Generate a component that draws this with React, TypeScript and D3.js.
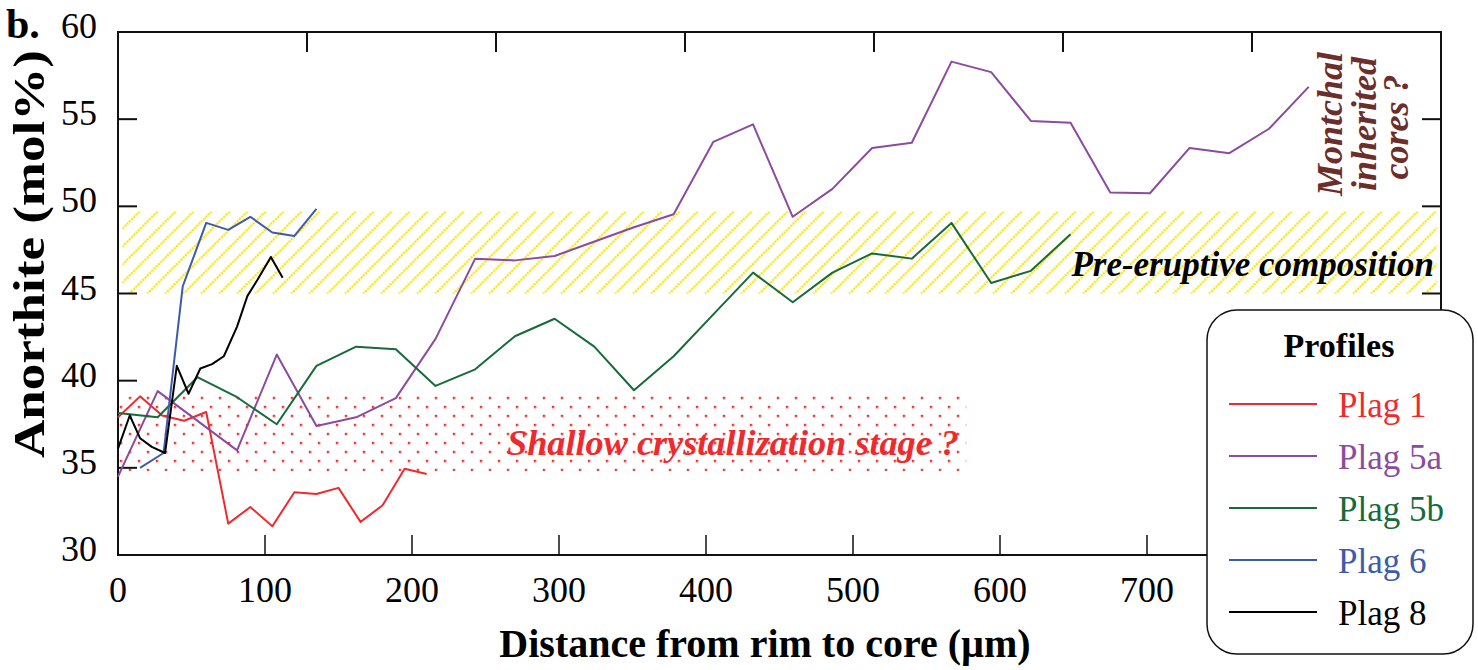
import React from "react";
import * as d3 from "d3";

// ---------- data ----------
const plag1D = [0, 15, 30, 45, 60, 75, 90, 105, 120, 135, 150, 165, 180, 195, 210];
const plag1V = [37.9, 39.1, 38.0, 37.7, 38.2, 31.8, 32.75, 31.65, 33.6, 33.5, 33.85, 31.9, 32.85, 34.95, 34.65];

const plag5aD = [0, 27, 81, 108, 135, 162, 189, 216, 243, 270, 297, 351, 378, 405, 432, 459, 486, 513, 540, 567, 594, 621, 648, 675, 702, 729, 756, 783, 810];
const plag5aV = [34.5, 39.4, 36.0, 41.5, 37.4, 37.9, 39.0, 42.4, 47.0, 46.9, 47.15, 48.8, 49.55, 53.7, 54.7, 49.4, 51.0, 53.35, 53.65, 58.3, 57.7, 54.9, 54.8, 50.8, 50.75, 53.35, 53.05, 54.45, 56.85];

const plag5bD = [0, 27, 54, 81, 108, 135, 162, 189, 216, 243, 270, 297, 324, 351, 378, 405, 432, 459, 486, 513, 540, 567, 594, 621, 648];
const plag5bV = [38.15, 37.9, 40.2, 39.05, 37.5, 40.85, 41.95, 41.8, 39.7, 40.65, 42.55, 43.55, 41.95, 39.45, 41.4, 43.8, 46.2, 44.5, 46.2, 47.3, 47.0, 49.05, 45.6, 46.3, 48.4];

const plag6D = [15, 31, 44, 60, 75, 90, 105, 120, 135];
const plag6V = [35.0, 35.85, 45.4, 49.05, 48.65, 49.4, 48.5, 48.3, 49.85];

const plag8D = [0, 8, 15, 23, 32, 40, 48, 56, 64, 72, 81, 88, 95, 104, 112];
const plag8V = [36.1, 38.0, 36.7, 36.2, 35.85, 40.85, 39.25, 40.7, 40.95, 41.4, 43.1, 44.85, 45.8, 47.1, 45.9];

const seriesNames = ["Plag 1", "Plag 5a", "Plag 5b", "Plag 6", "Plag 8"];
const seriesColors = ["#ee2a2e", "#8b4b9f", "#176a3a", "#3c5bab", "#000000"];

const xTicks = [0, 100, 200, 300, 400, 500, 600, 700, 800];
const yTicks = [30, 35, 40, 45, 50, 55, 60];
const topTickIdx = [1, 2, 3, 4, 5, 6];

const preEruptiveBand = [45, 49.7]; // An mol%
const preEruptiveRange = [3, 897]; // µm
const shallowBand = [34.8, 39.15];
const shallowRange = [0, 577];

// ---------- layout ----------
const W = 1478;
const H = 670;
const L = 118, R = 1441, T = 32, B = 555;

const serif = "'Liberation Serif', 'Times New Roman', 'DejaVu Serif', serif";

export default function App() {
  const x = d3.scaleLinear().domain([0, 900]).range([L, R]);
  const y = d3.scaleLinear().domain([30, 60]).range([B, T]);
  const xTop = d3.scaleLinear().domain([0, 7]).range([L, R]);

  const line = d3
    .line<[number, number]>()
    .x((d) => x(d[0]))
    .y((d) => y(d[1]));

  const series = [
    { name: seriesNames[0], color: seriesColors[0], pts: plag1D.map((d, i) => [d, plag1V[i]] as [number, number]) },
    { name: seriesNames[1], color: seriesColors[1], pts: plag5aD.map((d, i) => [d, plag5aV[i]] as [number, number]) },
    { name: seriesNames[2], color: seriesColors[2], pts: plag5bD.map((d, i) => [d, plag5bV[i]] as [number, number]) },
    { name: seriesNames[3], color: seriesColors[3], pts: plag6D.map((d, i) => [d, plag6V[i]] as [number, number]) },
    { name: seriesNames[4], color: seriesColors[4], pts: plag8D.map((d, i) => [d, plag8V[i]] as [number, number]) },
  ];

  const hs = 18 / Math.SQRT2;

  return (
    <svg
      width={W}
      height={H}
      style={{ position: "absolute", left: 0, top: 0, background: "#fff" }}
      fontFamily={serif}
    >
      <defs>
        <pattern id="hatch" patternUnits="userSpaceOnUse" width={hs} height={hs} patternTransform="rotate(45)">
          <line x1={hs / 2} y1={0} x2={hs / 2} y2={hs} stroke="#f2df12" strokeWidth={2} strokeDasharray={`${hs / 4 - 0.9} 0.9`} />
        </pattern>
        <pattern id="dots" patternUnits="userSpaceOnUse" x={2.8} y={396.8} width={18} height={18}>
          <rect x={0} y={0} width={2.4} height={2.4} fill="#f02b2b" />
          <rect x={9} y={9} width={2.4} height={2.4} fill="#f02b2b" />
        </pattern>
      </defs>

      {/* bands */}
      <rect
        x={x(preEruptiveRange[0])}
        y={y(preEruptiveBand[1])}
        width={x(preEruptiveRange[1]) - x(preEruptiveRange[0])}
        height={y(preEruptiveBand[0]) - y(preEruptiveBand[1])}
        fill="url(#hatch)"
      />
      <rect
        x={x(shallowRange[0])}
        y={y(shallowBand[1])}
        width={x(shallowRange[1]) - x(shallowRange[0])}
        height={y(shallowBand[0]) - y(shallowBand[1])}
        fill="url(#dots)"
      />

      {/* frame */}
      <rect x={L} y={T} width={R - L} height={B - T} fill="none" stroke="#111" strokeWidth={2} />
      {yTicks.map((t) => (
        <g key={"yt" + t}>
          <line x1={L} x2={L + 19} y1={y(t)} y2={y(t)} stroke="#111" strokeWidth={2} />
          <line x1={R - 19} x2={R} y1={y(t)} y2={y(t)} stroke="#111" strokeWidth={2} />
          <text x={97} y={y(t) + 6} textAnchor="end" fontSize={36}>
            {t}
          </text>
        </g>
      ))}
      {xTicks.map((t) => (
        <g key={"xt" + t}>
          <line x1={x(t)} x2={x(t)} y1={B} y2={B - 20} stroke="#111" strokeWidth={1.5} />
          <text x={x(t)} y={602} textAnchor="middle" fontSize={36}>
            {t}
          </text>
        </g>
      ))}
      {topTickIdx.map((t) => (
        <line key={"tt" + t} x1={xTop(t)} x2={xTop(t)} y1={T} y2={T + 20} stroke="#111" strokeWidth={2} />
      ))}

      {/* series */}
      {series.map((s) => (
        <path key={s.name} d={line(s.pts) || ""} fill="none" stroke={s.color} strokeWidth={2} strokeLinejoin="round" />
      ))}

      {/* annotations */}
      <text x={507} y={455} fontSize={35} fontWeight="bold" fontStyle="italic" fill="#ee2a2e" textLength={452} lengthAdjust="spacingAndGlyphs">
        Shallow crystallization stage ?
      </text>
      <text x={1434} y={276} textAnchor="end" fontSize={35} fontWeight="bold" fontStyle="italic" fill="#000">
        Pre-eruptive composition
      </text>
      <g fill="#6b2e2a" fontSize={36} fontWeight="bold" fontStyle="italic" textAnchor="middle">
        <text transform="translate(1342,124) rotate(-90)">Montchal</text>
        <text transform="translate(1376,124) rotate(-90)">inherited</text>
        <text transform="translate(1408,127) rotate(-90)">cores ?</text>
      </g>

      {/* axis titles */}
      <text x={765} y={657} textAnchor="middle" fontSize={40} fontWeight="bold">
        Distance from rim to core (µm)
      </text>
      <text
        transform="translate(44,254) rotate(-90)"
        textAnchor="middle"
        fontSize={44}
        fontWeight="bold"
        textLength={408}
        lengthAdjust="spacingAndGlyphs"
      >
        Anorthite (mol%)
      </text>
      <text x={6} y={38} fontSize={42} fontWeight="bold">
        b.
      </text>

      {/* legend */}
      <rect x={1207} y={310} width={266} height={344} rx={30} fill="#fff" stroke="#111" strokeWidth={1.5} />
      <text x={1339} y={357} textAnchor="middle" fontSize={34} fontWeight="bold">
        Profiles
      </text>
      {series.map((s, i) => (
        <g key={"lg" + s.name}>
          <line x1={1229} x2={1317} y1={404 + i * 52} y2={404 + i * 52} stroke={s.color} strokeWidth={2} />
          <text x={1338} y={417 + i * 52} fontSize={35} fill={s.color}>
            {s.name}
          </text>
        </g>
      ))}
    </svg>
  );
}
